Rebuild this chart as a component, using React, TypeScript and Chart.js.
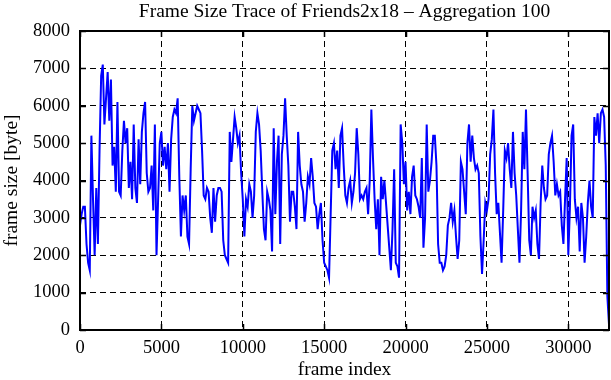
import React, { useEffect, useRef } from "react";
import { Chart, registerables } from "chart.js";

Chart.register(...registerables);

const TITLE = "Frame Size Trace of Friends2x18 \u2013 Aggregation 100";
const X_LABEL = "frame index";
const Y_LABEL = "frame size [byte]";
const AGGREGATION = 100;
const X_MAX = 32500;
const Y_MAX = 8000;
const X_TICKS = [0, 5000, 10000, 15000, 20000, 25000, 30000];
const Y_TICKS = [0, 1000, 2000, 3000, 4000, 5000, 6000, 7000, 8000];

// mean frame size of each aggregation block of 100 frames
const FRAME_SIZES = [
  2800, 3100, 3300, 3300, 2300, 1800, 1600, 5200, 3500, 2000,
  3800, 2300, 4800, 6800, 7100, 5500, 6200, 6900, 5600, 6700,
  4400, 4900, 3700, 6100, 3700, 3600, 4800, 5600, 5000, 5400,
  3800, 4500, 3500, 5500, 3800, 3400, 5100, 3900, 5300, 5800,
  6100, 4200, 3700, 3800, 4400, 3200, 5500, 2000, 3500, 5000,
  5300, 4400, 4900, 4300, 5000, 3700, 5100, 5700, 5900, 5800,
  6200, 4100, 2500, 3600, 3200, 3600, 2500, 2300, 4300, 6000,
  5600, 5800, 6000, 5900, 5800, 4800, 3600, 3500, 3800, 3700,
  3000, 2600, 3800, 2900, 3600, 3800, 3800, 3700, 2400, 2000,
  1900, 1800, 5300, 4500, 5100, 5700, 5400, 5000, 5200, 4200,
  3500, 2500, 3500, 3300, 3900, 3700, 3000, 3600, 5300, 5800,
  5500, 4800, 3700, 2700, 2400, 3700, 3500, 3200, 2100, 5400,
  3100, 4500, 5200, 2300, 4700, 5200, 6200, 5200, 4400, 2900,
  3700, 3700, 3300, 2700, 5300, 4400, 3900, 3700, 2900, 3400,
  4100, 3900, 4600, 4100, 3400, 3300, 2700, 3100, 3400, 2400,
  1800, 1700, 1600, 1400, 3100, 4800, 5000, 4300, 4800, 3800,
  5200, 5400, 4400, 3600, 3400, 3800, 4000, 3400, 3700, 4200,
  5400, 4700, 3500, 3600, 3500, 3700, 3800, 3100, 4000, 5900,
  4600, 3500, 2700, 3500, 2000, 4100, 3500, 4000, 3400, 2800,
  2200, 1600, 2700, 4300, 1800, 1700, 1400, 5500, 5000, 3900,
  4500, 3200, 3700, 3100, 4100, 4400, 3600, 3500, 3300, 3000,
  4600, 2200, 3000, 5500, 3700, 4000, 4500, 5200, 5200, 4400,
  2300, 1800, 1800, 1600, 1700, 2000, 2800, 3000, 3400, 2900,
  3200, 2500, 1900, 2400, 4500, 4300, 3700, 3100, 5000, 5500,
  4500, 5200, 4600, 4300, 4400, 4200, 2500, 1500, 2400, 3400,
  3200, 3500, 4700, 5100, 5900, 4200, 3100, 3400, 2600, 1800,
  3200, 4800, 4600, 5000, 4300, 3800, 5300, 4200, 3600, 2700,
  1800, 3200, 5300, 4300, 5900, 4200, 2400, 2000, 3300, 3000,
  3200, 2300, 1900, 3400, 4400, 3800, 3500, 3600, 4700, 5000,
  5200, 4500, 3600, 3900, 3600, 3700, 2800, 2300, 3500, 4600,
  2000, 3300, 5200, 5500, 3500, 3000, 3300, 2100, 3400, 3000,
  1800, 2500, 3400, 4000, 3300, 3000, 5700, 5200, 5800, 5000,
  5800, 5900, 5700, 4400, 900, 150,
];

const FONT = "'Liberation Serif', 'Times New Roman', serif";
const TICK_SIZE = 18.5;
const LABEL_SIZE = 19.5;

const framePlugin = {
  id: "gnuplotFrame",
  afterDraw(chart: any) {
    const { ctx, chartArea: a, scales } = chart;
    const L = 6;
    ctx.save();
    ctx.setLineDash([]);
    ctx.strokeStyle = "#000";
    ctx.lineWidth = 1.5;
    ctx.beginPath();
    scales.y.ticks.forEach((t: any) => {
      const y = Math.round(scales.y.getPixelForValue(t.value)) + 0.5;
      ctx.moveTo(a.left, y);
      ctx.lineTo(a.left + L, y);
      ctx.moveTo(a.right, y);
      ctx.lineTo(a.right - L, y);
    });
    scales.x.ticks.forEach((t: any) => {
      const x = Math.round(scales.x.getPixelForValue(t.value)) + 0.5;
      ctx.moveTo(x, a.bottom);
      ctx.lineTo(x, a.bottom - L);
      ctx.moveTo(x, a.top);
      ctx.lineTo(x, a.top + L);
    });
    ctx.stroke();
    ctx.lineWidth = 2;
    ctx.strokeRect(a.left, a.top, a.right - a.left, a.bottom - a.top);
    ctx.restore();
  },
};

export default function App() {
  const ref = useRef<HTMLCanvasElement | null>(null);

  useEffect(() => {
    if (!ref.current) return;
    const points = FRAME_SIZES.map((v, i) => ({ x: i * AGGREGATION, y: v }));
    const chart = new Chart(ref.current, {
      type: "line",
      data: {
        datasets: [
          {
            data: points,
            borderColor: "#0000ff",
            borderWidth: 2,
            pointRadius: 0,
            tension: 0,
            fill: false,
          },
        ],
      },
      options: {
        animation: false,
        responsive: false,
        layout: { padding: { left: 0, right: 2, top: 0, bottom: 0 } },
        plugins: {
          legend: { display: false },
          tooltip: { enabled: false },
          title: {
            display: true,
            fullSize: false,
            text: TITLE,
            color: "#000",
            font: { family: FONT, size: LABEL_SIZE, weight: "normal", lineHeight: 1 },
            padding: { top: 2, bottom: 9.5 },
          },
        },
        scales: {
          x: {
            type: "linear",
            min: 0,
            max: X_MAX,
            afterFit: (s: any) => {
              s.height = 50;
            },
            afterBuildTicks: (s: any) => {
              s.ticks = X_TICKS.map((v) => ({ value: v }));
            },
            ticks: {
              color: "#000",
              font: { family: FONT, size: TICK_SIZE },
              padding: 7,
              maxRotation: 0,
              autoSkip: false,
              callback: (v: any) => String(v),
            },
            grid: { color: "#000", lineWidth: 1, drawTicks: false },
            border: { display: false, dash: [6, 4] },
            title: {
              display: true,
              text: X_LABEL,
              color: "#000",
              font: { family: FONT, size: LABEL_SIZE, lineHeight: 1 },
              padding: { top: 0, bottom: 0 },
            },
          },
          y: {
            type: "linear",
            min: 0,
            max: Y_MAX,
            afterFit: (s: any) => {
              s.width = 80;
            },
            afterBuildTicks: (s: any) => {
              s.ticks = Y_TICKS.map((v) => ({ value: v }));
            },
            ticks: {
              color: "#000",
              font: { family: FONT, size: TICK_SIZE },
              padding: 10,
              autoSkip: false,
              callback: (v: any) => String(v),
            },
            grid: { color: "#000", lineWidth: 1, drawTicks: false },
            border: { display: false, dash: [6, 4] },
            title: {
              display: true,
              text: Y_LABEL,
              color: "#000",
              font: { family: FONT, size: LABEL_SIZE, lineHeight: 1 },
              padding: { top: 2, bottom: 0 },
            },
          },
        },
      },
      plugins: [framePlugin],
    } as any);
    return () => chart.destroy();
  }, []);

  return (
    <div style={{ position: "absolute", left: 0, top: 0, width: 611, height: 380, background: "#fff" }}>
      <canvas ref={ref} width={611} height={380} />
    </div>
  );
}
